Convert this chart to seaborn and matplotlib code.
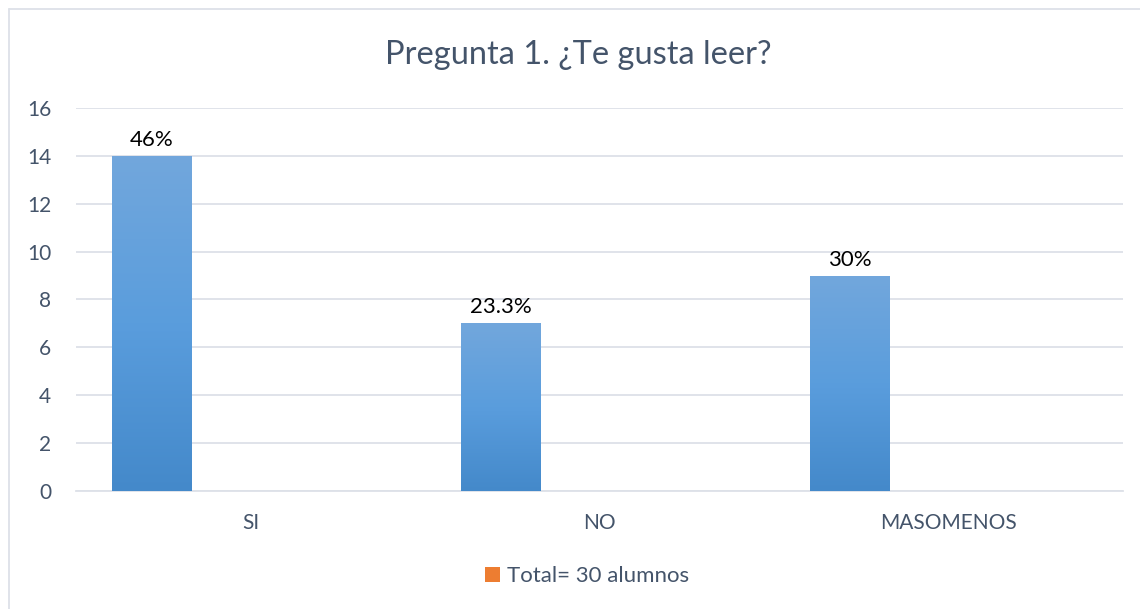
import matplotlib
matplotlib.use("Agg")
import matplotlib.pyplot as plt
import seaborn as sns
import pandas as pd
import numpy as np
from matplotlib.patches import Rectangle
from matplotlib.lines import Line2D
from matplotlib.colors import LinearSegmentedColormap

categories = ["SI", "NO", "MASOMENOS"]
values = [14, 7, 9]
labels = ["46%", "23.3%", "30%"]
legend_label = "Total= 30 alumnos"
yticks = [0, 2, 4, 6, 8, 10, 12, 14, 16]

sns.set_theme(style="white")
plt.rcParams['font.family'] = ['Lato', 'DejaVu Sans']

df = pd.DataFrame({
    "cat": categories * 2,
    "val": values + [np.nan] * len(values),
    "serie": ["Serie1"] * len(categories) + [legend_label] * len(categories),
})

fig = plt.figure(figsize=(11.4, 6.09), dpi=100)
ax = fig.add_axes([0.0667, 0.1938, 0.9184, 0.6289])

sns.barplot(data=df, x="cat", y="val", hue="serie", order=categories,
            hue_order=["Serie1", legend_label],
            palette=["#5B9BD5", "#ED7D31"], width=1.135, gap=0.6,
            dodge=True, legend=False, ax=ax, errorbar=None, zorder=3)

# gradient fill for bars
grad = np.linspace(0, 1, 256).reshape(-1, 1)
cmap = LinearSegmentedColormap.from_list("g", ["#4489CA", "#5A9DDD", "#72A7DC"])
bars = [p for p in ax.patches if isinstance(p, Rectangle) and np.isfinite(p.get_height()) and p.get_height() > 0]
for p, lab in zip(bars, labels):
    x0, y0 = p.get_x(), p.get_y()
    w, h = p.get_width(), p.get_height()
    im = ax.imshow(grad, extent=[x0, x0 + w, y0, y0 + h], origin="lower",
                   cmap=cmap, aspect="auto", zorder=3)
    im.set_clip_path(p)
    p.set_facecolor("none")
    p.set_edgecolor("none")
    ax.text(x0 + w / 2, y0 + h + 0.25, lab, ha="center", va="bottom",
            fontsize=16, color="#000000", zorder=4)

ax.set_xlim(-0.5, 2.5)
ax.set_ylim(0, 16)
ax.set_yticks(yticks)
ax.set_yticklabels([str(t) for t in yticks])
ax.yaxis.grid(True, color="#DDE1E8", linewidth=1.3, zorder=0)
ax.set_axisbelow(True)
for s in ["top", "right", "left"]:
    ax.spines[s].set_visible(False)
ax.spines["bottom"].set_color("#DDE1E8")
ax.spines["bottom"].set_linewidth(1.3)
ax.tick_params(axis="y", length=0, pad=18, labelsize=15, labelcolor="#44546A")
ax.tick_params(axis="x", length=0, pad=16, labelsize=15, labelcolor="#44546A")
ax.set_xlabel("")
ax.set_ylabel("")

fig.text(0.507, 0.91, "Pregunta 1. ¿Te gusta leer?", ha="center", va="center",
         fontsize=23.5, color="#44546A")

handle = Rectangle((0, 0), 1, 1, facecolor="#ED7D31", edgecolor="none")
fig.legend([handle], [legend_label], loc="center", bbox_to_anchor=(0.515, 0.054),
           frameon=False, fontsize=16, labelcolor="#44546A", handlelength=0.7,
           handleheight=0.7, handletextpad=0.3)

# chart frame
fig.add_artist(Line2D([9 / 1140, 1.0], [1 - 9 / 609, 1 - 9 / 609], color="#DDE1E8",
                      linewidth=1.3, transform=fig.transFigure))
fig.add_artist(Line2D([9 / 1140, 9 / 1140], [0, 1 - 9 / 609], color="#DDE1E8",
                      linewidth=1.3, transform=fig.transFigure))

fig.savefig("out.png", dpi=100, facecolor="white")
